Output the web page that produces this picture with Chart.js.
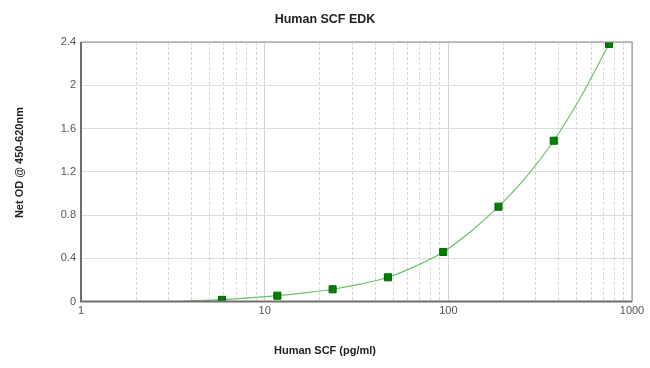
<!DOCTYPE html>
<html>
<head>
<meta charset="utf-8">
<script src="https://cdn.jsdelivr.net/npm/chart.js@4"></script>
<style>
  html, body { margin: 0; padding: 0; background: #fff; }
  #wrap { width: 650px; height: 368px; }
</style>
</head>
<body>
<div id="wrap"><canvas id="myChart" width="650" height="368"></canvas></div>
<script>
// standards (pg/ml) and measured OD
const concentrations = [5.86, 11.72, 23.44, 46.88, 93.75, 187.5, 375, 750];
const odValues = [0.015, 0.054, 0.113, 0.224, 0.458, 0.877, 1.487, 2.382];

// fitted curve
const curveX = [3.6, 4.5, 5.86, 8.3, 11.72, 16.5, 23.44, 33, 46.88, 66, 93.75, 133, 187.5, 265, 375, 530, 750];
const curveY = [0.003, 0.008, 0.017, 0.034, 0.054, 0.08, 0.113, 0.16, 0.224, 0.325, 0.458, 0.65, 0.877, 1.15, 1.487, 1.9, 2.382];

const xTickLabels = [1, 10, 100, 1000];
const yTicks = [0, 0.4, 0.8, 1.2, 1.6, 2, 2.4];

const isDecade = (v) => xTickLabels.includes(v);
const FONT = 'Liberation Sans, Arial, sans-serif';

const frame = {
  id: 'frame',
  afterDraw(chart) {
    const a = chart.chartArea;
    const c = chart.ctx;
    c.save();
    c.strokeStyle = '#8a8a8a';
    c.lineWidth = 1;
    c.strokeRect(a.left, a.top, a.right - a.left, a.bottom - a.top);
    c.strokeStyle = '#6e6e6e';
    c.lineWidth = 2;
    c.beginPath();
    c.moveTo(a.left, a.top);
    c.lineTo(a.left, a.bottom);
    c.lineTo(a.right, a.bottom);
    c.stroke();
    c.restore();
  }
};

const ctx = document.getElementById('myChart');

let chart = new Chart(ctx, {
  type: 'scatter',
  data: {
    datasets: [{
      label: 'Curve',
      data: curveX.map((x, i) => ({ x: x, y: curveY[i] })),
      showLine: true,
      borderColor: '#6cbf6c',
      borderWidth: 1.2,
      pointRadius: 0,
      cubicInterpolationMode: 'monotone',
      order: 2
    }, {
      label: 'Standards',
      data: concentrations.map((x, i) => ({ x: x, y: odValues[i] })),
      pointStyle: 'rect',
      pointRadius: 5,
      backgroundColor: '#008000',
      borderColor: '#006400',
      borderWidth: 1,
      order: 1
    }]
  },
  options: {
    responsive: false,
    animation: false,
    layout: { padding: 0 },
    plugins: {
      legend: { display: false },
      tooltip: { enabled: false },
      title: {
        display: true,
        text: 'Human SCF EDK',
        color: '#222',
        font: { family: FONT, size: 12.5, weight: 'bold' },
        padding: { top: 12, bottom: 15 }
      },
      // x axis title, centred on the whole picture like the original
      subtitle: {
        display: true,
        position: 'bottom',
        text: 'Human SCF (pg/ml)',
        color: '#222',
        font: { family: FONT, size: 11, weight: 'bold' },
        padding: { top: 0, bottom: 10.4 }
      }
    },
    scales: {
      x: {
        type: 'logarithmic',
        min: 1,
        max: 1000,
        afterFit: (s) => { s.height = 42.9; },
        afterBuildTicks: (s) => {
          const t = [];
          for (let d = 1; d < 1000; d *= 10) {
            for (let k = 1; k < 10; k++) t.push({ value: d * k });
          }
          t.push({ value: 1000 });
          s.ticks = t;
        },
        ticks: {
          autoSkip: false,
          maxRotation: 0,
          padding: 3,
          color: '#555',
          font: { family: FONT, size: 11 },
          callback: (v) => isDecade(v) ? String(v) : ''
        },
        grid: {
          color: (c) => isDecade(c.tick && c.tick.value) ? 'rgba(0,0,0,0)' : '#d8d8d8',
          lineWidth: 1,
          drawTicks: false
        },
        border: { display: false, dash: [3, 2] }
      },
      xMajor: {
        type: 'logarithmic',
        position: 'bottom',
        min: 1,
        max: 1000,
        afterFit: (s) => { s.height = 0; },
        afterBuildTicks: (s) => { s.ticks = xTickLabels.map((v) => ({ value: v })); },
        ticks: { display: false },
        grid: { color: '#d4d4d4', lineWidth: 1, drawTicks: false },
        border: { display: false }
      },
      y: {
        min: 0,
        max: 2.4,
        afterFit: (s) => { s.width = 81; },
        afterBuildTicks: (s) => { s.ticks = yTicks.map((v) => ({ value: v })); },
        ticks: {
          padding: 5,
          color: '#555',
          font: { family: FONT, size: 11 },
          callback: (v) => String(v)
        },
        grid: { color: '#dcdcdc', lineWidth: 1, drawTicks: false },
        border: { display: false },
        title: {
          display: true,
          text: '      Net OD @ 450-620nm',
          color: '#222',
          font: { family: FONT, size: 11, weight: 'bold' },
          padding: { top: 13, bottom: 0 }
        }
      },
      // empty strip on the right, keeps the plot clear of the edge
      yRight: {
        position: 'right',
        min: 0,
        max: 2.4,
        afterFit: (s) => { s.width = 18; },
        ticks: { display: false },
        grid: { display: false },
        border: { display: false }
      }
    }
  },
  plugins: [frame]
});
</script>
</body>
</html>
